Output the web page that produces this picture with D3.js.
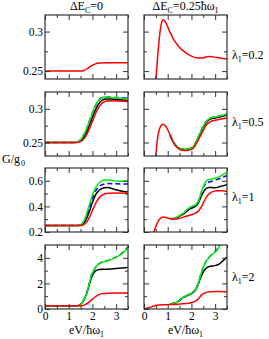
<!DOCTYPE html>
<html>
<head>
<meta charset="utf-8">
<script src="https://cdn.jsdelivr.net/npm/d3@7"></script>
<style>
  body { margin: 0; background: #fff; }
  svg text { font-family: "Liberation Serif", serif; fill: #000; }
</style>
</head>
<body>
<div id="chart"></div>
<script>
/* DATA */
const xTicks = [0, 1, 2, 3];
const lambdas = ["0.2", "0.5", "1", "2"];
const yDomains = [[0.24, 0.321], [0.23, 0.325], [0.2, 0.7], [0, 5]];
const yTickVals = [[0.25, 0.3], [0.25, 0.3], [0.2, 0.4, 0.6], [0, 2, 4]];
const yMinor = [[0.275], [0.275], [0.3, 0.5], [1, 3]];

// lambda = 0.2
const r1L_red = [[0,0.25],[1.5,0.25],[1.65,0.2508],[1.8,0.2535],[1.95,0.2565],[2.1,0.2588],[2.3,0.2602],[2.6,0.2605],[3.5,0.2605]];
const r1R_red = [[0.5,0.24],[0.55,0.258],[0.6,0.277],[0.67,0.298],[0.74,0.311],[0.81,0.315],[0.9,0.3125],[1.0,0.306],[1.1,0.299],[1.25,0.29],[1.5,0.28],[1.75,0.2735],[2.0,0.269],[2.25,0.2665],[2.45,0.2665],[2.7,0.2685],[2.9,0.268],[3.2,0.2665],[3.5,0.2652]];

// lambda = 0.5
const r2L_black = [[0,0.25],[1.3,0.25],[1.5,0.2525],[1.65,0.2585],[1.8,0.2695],[1.95,0.283],[2.1,0.2965],[2.25,0.3065],[2.4,0.3125],[2.6,0.3145],[2.8,0.3145],[3.1,0.3135],[3.5,0.3125]];
const r2L_blue = [[0,0.25],[1.25,0.25],[1.45,0.2525],[1.6,0.259],[1.75,0.27],[1.9,0.2845],[2.05,0.2985],[2.2,0.3095],[2.35,0.3155],[2.55,0.3175],[2.8,0.3172],[3.1,0.3165],[3.5,0.3162]];
const r2L_green = [[0,0.25],[1.25,0.25],[1.45,0.2525],[1.6,0.259],[1.75,0.27],[1.9,0.2845],[2.05,0.2985],[2.2,0.3095],[2.35,0.3155],[2.55,0.3175],[2.8,0.317],[3.1,0.316],[3.5,0.315]];
const r2L_red = [[0,0.25],[1.35,0.25],[1.55,0.2525],[1.7,0.2585],[1.85,0.2685],[2.0,0.2815],[2.15,0.2945],[2.3,0.304],[2.45,0.3095],[2.6,0.3115],[2.8,0.312],[3.1,0.3115],[3.5,0.311]];
const r2R_black = [[1.1,0.261],[1.2,0.253],[1.3,0.247],[1.45,0.242],[1.6,0.2398],[1.8,0.2395],[2.0,0.241],[2.1,0.244],[2.2,0.25],[2.35,0.2615],[2.5,0.273],[2.65,0.281],[2.8,0.2848],[3.0,0.2865],[3.2,0.288],[3.5,0.291]];
const r2R_blue = [[1.1,0.261],[1.2,0.253],[1.3,0.2475],[1.45,0.2425],[1.6,0.2405],[1.8,0.2402],[2.0,0.2418],[2.1,0.245],[2.2,0.2515],[2.35,0.263],[2.5,0.2745],[2.65,0.2825],[2.8,0.2862],[3.0,0.2878],[3.2,0.2895],[3.5,0.2925]];
const r2R_green = [[1.1,0.261],[1.2,0.253],[1.3,0.2475],[1.45,0.2425],[1.6,0.2405],[1.8,0.2402],[2.0,0.2418],[2.1,0.245],[2.2,0.2515],[2.35,0.263],[2.5,0.2745],[2.65,0.2825],[2.8,0.2862],[3.0,0.2878],[3.2,0.2895],[3.5,0.2925]];
const r2R_red = [[0.5,0.23],[0.55,0.25],[0.62,0.266],[0.7,0.274],[0.8,0.277],[0.9,0.275],[1.0,0.269],[1.1,0.261],[1.2,0.253],[1.3,0.2465],[1.45,0.241],[1.6,0.2385],[1.8,0.2382],[2.0,0.2398],[2.1,0.2425],[2.2,0.248],[2.35,0.258],[2.5,0.268],[2.65,0.277],[2.8,0.281],[3.0,0.283],[3.2,0.2845],[3.5,0.2865]];

// lambda = 1
const r3L_black = [[0,0.25],[1.4,0.25],[1.55,0.257],[1.7,0.285],[1.85,0.35],[2.0,0.43],[2.15,0.495],[2.3,0.528],[2.5,0.545],[2.65,0.548],[2.9,0.535],[3.2,0.52],[3.5,0.512]];
const r3L_blue = [[0,0.25],[1.38,0.25],[1.53,0.258],[1.68,0.29],[1.83,0.365],[1.98,0.45],[2.13,0.52],[2.28,0.556],[2.45,0.572],[2.65,0.578],[2.9,0.577],[3.2,0.575],[3.5,0.575]];
const r3L_green = [[0,0.25],[1.35,0.25],[1.5,0.258],[1.65,0.29],[1.8,0.37],[1.95,0.46],[2.1,0.535],[2.25,0.578],[2.4,0.6],[2.6,0.609],[2.8,0.605],[3.0,0.597],[3.2,0.596],[3.5,0.599]];
const r3L_red = [[0,0.25],[1.45,0.25],[1.6,0.255],[1.75,0.275],[1.9,0.325],[2.05,0.39],[2.2,0.445],[2.35,0.48],[2.5,0.497],[2.7,0.503],[3.0,0.504],[3.5,0.503]];
const r3R_black = [[1.1,0.304],[1.25,0.304],[1.45,0.318],[1.66,0.34],[1.94,0.38],[2.15,0.398],[2.29,0.425],[2.36,0.455],[2.43,0.485],[2.5,0.51],[2.57,0.53],[2.71,0.548],[2.85,0.547],[3.0,0.545],[3.2,0.555],[3.5,0.57]];
const r3R_blue = [[1.1,0.304],[1.25,0.305],[1.45,0.322],[1.66,0.348],[1.94,0.392],[2.15,0.41],[2.22,0.42],[2.29,0.439],[2.36,0.475],[2.43,0.517],[2.5,0.548],[2.57,0.57],[2.64,0.582],[2.71,0.588],[2.85,0.596],[3.06,0.609],[3.25,0.622],[3.5,0.642]];
const r3R_green = [[1.1,0.304],[1.25,0.305],[1.45,0.322],[1.66,0.348],[1.94,0.392],[2.15,0.41],[2.22,0.42],[2.29,0.439],[2.36,0.475],[2.43,0.517],[2.5,0.553],[2.57,0.583],[2.64,0.6],[2.71,0.609],[2.85,0.614],[3.0,0.62],[3.2,0.634],[3.35,0.65],[3.5,0.668]];
const r3R_red = [[0.42,0.2],[0.5,0.245],[0.6,0.285],[0.7,0.308],[0.81,0.317],[0.95,0.312],[1.1,0.304],[1.25,0.302],[1.45,0.306],[1.66,0.316],[1.9,0.33],[2.08,0.341],[2.2,0.352],[2.29,0.363],[2.36,0.38],[2.43,0.4],[2.5,0.425],[2.57,0.452],[2.64,0.474],[2.71,0.491],[2.85,0.512],[3.06,0.523],[3.3,0.522],[3.5,0.517]];

// lambda = 2
const r4L_black = [[0,0.25],[1.35,0.25],[1.45,0.3],[1.55,0.45],[1.65,0.75],[1.75,1.2],[1.85,1.8],[1.95,2.4],[2.05,2.8],[2.15,3.0],[2.3,3.08],[2.5,3.1],[2.8,3.12],[3.1,3.18],[3.5,3.25]];
const r4L_blue = [[0,0.25],[1.35,0.25],[1.45,0.3],[1.55,0.45],[1.65,0.75],[1.75,1.2],[1.85,1.85],[1.95,2.6],[2.05,3.0],[2.15,3.3],[2.3,3.57],[2.5,3.72],[2.7,3.82],[2.9,3.98],[3.1,4.18],[3.3,4.45],[3.5,4.85]];
const r4L_green = [[0,0.25],[1.35,0.25],[1.45,0.3],[1.55,0.45],[1.65,0.75],[1.75,1.2],[1.85,1.85],[1.95,2.6],[2.05,3.0],[2.15,3.3],[2.3,3.55],[2.5,3.7],[2.7,3.8],[2.9,3.95],[3.1,4.15],[3.3,4.4],[3.5,4.78]];
const r4L_red = [[0,0.25],[1.5,0.25],[1.65,0.3],[1.8,0.45],[1.95,0.68],[2.1,0.92],[2.25,1.1],[2.4,1.2],[2.6,1.24],[3.0,1.25],[3.5,1.25]];
const r4R_black = [[1.1,0.37],[1.25,0.45],[1.38,0.52],[1.52,0.7],[1.66,0.9],[1.8,1.02],[1.94,1.15],[2.08,1.3],[2.2,1.55],[2.29,1.95],[2.36,2.3],[2.43,2.63],[2.5,2.9],[2.57,3.08],[2.78,3.34],[2.99,3.39],[3.2,3.55],[3.35,3.8],[3.5,4.05]];
const r4R_blue = [[1.1,0.37],[1.25,0.45],[1.38,0.53],[1.52,0.72],[1.66,0.92],[1.8,1.05],[1.94,1.18],[2.08,1.35],[2.2,1.62],[2.29,2.02],[2.36,2.47],[2.43,2.9],[2.5,3.27],[2.57,3.57],[2.71,3.97],[2.85,4.24],[3.0,4.5],[3.1,4.7],[3.2,5.0],[3.3,5.3]];
const r4R_green = [[1.1,0.37],[1.25,0.45],[1.38,0.53],[1.52,0.72],[1.66,0.92],[1.8,1.05],[1.94,1.18],[2.08,1.35],[2.2,1.6],[2.29,2.0],[2.36,2.45],[2.43,2.89],[2.5,3.25],[2.57,3.55],[2.71,3.95],[2.85,4.21],[3.0,4.45],[3.1,4.65],[3.2,5.0],[3.3,5.3]];
const r4R_red = [[0,0],[0.25,0.13],[0.45,0.26],[0.6,0.32],[0.96,0.34],[1.52,0.39],[1.94,0.47],[2.15,0.6],[2.29,0.79],[2.43,1.1],[2.57,1.26],[2.78,1.34],[3.1,1.36],[3.5,1.34]];

const panels = [
  [{red: r1L_red}, {red: r1R_red}],
  [{black: r2L_black, blue: r2L_blue, green: r2L_green, red: r2L_red}, {black: r2R_black, blue: r2R_blue, green: r2R_green, red: r2R_red}],
  [{black: r3L_black, blue: r3L_blue, green: r3L_green, red: r3L_red}, {black: r3R_black, blue: r3R_blue, green: r3R_green, red: r3R_red}],
  [{black: r4L_black, blue: r4L_blue, green: r4L_green, red: r4L_red}, {black: r4R_black, blue: r4R_blue, green: r4R_green, red: r4R_red}]
];

/* LAYOUT */
const W = 269, H = 339;
const colX = [45, 144], rowY = [15, 92, 168, 245];
const pw = 83, ph = 64;
const lamY = [59, 126, 201, 281];
const colors = {black: "#000000", blue: "#0000ff", green: "#00ee00", red: "#ff0000"};
const FS = "12px", TS = "11.5px", SUB = "8px";

const svg = d3.select("#chart").append("svg")
  .attr("width", W).attr("height", H);

const x = d3.scaleLinear().domain([0, 3.5]).range([0, pw]);
const xMinor = [0.5, 1.5, 2.5, 3.5];

panels.forEach((row, ri) => {
  const y = d3.scaleLinear().domain(yDomains[ri]).range([ph, 0]);
  const fmt = d => String(+d.toFixed(2));
  row.forEach((series, ci) => {
    const g = svg.append("g").attr("transform", `translate(${colX[ci]},${rowY[ri]})`);
    const cid = `clip${ri}${ci}`;
    g.append("clipPath").attr("id", cid).append("rect").attr("width", pw).attr("height", ph);

    const line = d3.line().x(d => x(d[0])).y(d => y(d[1])).curve(d3.curveMonotoneX);
    const lines = g.append("g").attr("clip-path", `url(#${cid})`);
    ["black", "blue", "green", "red"].forEach(k => {
      if (!series[k]) return;
      lines.append("path")
        .attr("d", line(series[k]))
        .attr("fill", "none")
        .attr("stroke", colors[k])
        .attr("stroke-width", 1.5)
        .attr("stroke-dasharray", k === "blue" ? "5,3" : null);
    });

    // axes, ticks inward on all four sides
    const addAxis = (axis, tx, ty) => {
      const a = g.append("g").attr("transform", `translate(${tx},${ty})`).call(axis);
      a.attr("font-family", null).attr("font-size", null);
      a.select(".domain").remove();
      a.selectAll(".tick line").attr("stroke", "#333");
      a.selectAll(".tick text").style("font-size", TS).attr("fill", "#000");
      return a;
    };
    const showX = ri === 3, showY = ci === 0;
    addAxis(d3.axisBottom(x).tickValues(xTicks).tickSize(-5).tickPadding(3)
      .tickFormat(showX ? d3.format("d") : ""), 0, ph);
    addAxis(d3.axisBottom(x).tickValues(xMinor).tickSize(-3).tickFormat(""), 0, ph);
    addAxis(d3.axisTop(x).tickValues(xTicks).tickSize(-5).tickFormat(""), 0, 0);
    addAxis(d3.axisTop(x).tickValues(xMinor).tickSize(-3).tickFormat(""), 0, 0);
    addAxis(d3.axisLeft(y).tickValues(yTickVals[ri]).tickSize(-5).tickPadding(2)
      .tickFormat(showY ? fmt : ""), 0, 0);
    addAxis(d3.axisLeft(y).tickValues(yMinor[ri]).tickSize(-3).tickFormat(""), 0, 0);
    addAxis(d3.axisRight(y).tickValues(yTickVals[ri]).tickSize(-5).tickFormat(""), pw, 0);
    addAxis(d3.axisRight(y).tickValues(yMinor[ri]).tickSize(-3).tickFormat(""), pw, 0);

    g.append("rect").attr("width", pw).attr("height", ph)
      .attr("fill", "none").attr("stroke", "#333").attr("stroke-width", 1.2);

    if (showX) {
      const t = g.append("text").attr("x", pw / 2).attr("y", ph + 25)
        .attr("text-anchor", "middle").style("font-size", FS);
      t.append("tspan").text("eV/ħω");
      t.append("tspan").attr("dy", 3).style("font-size", SUB).text("1");
    }
  });

  const lt = svg.append("text").attr("x", 232).attr("y", lamY[ri]).style("font-size", FS);
  lt.append("tspan").text("λ");
  lt.append("tspan").attr("dy", 3).style("font-size", SUB).text("1");
  lt.append("tspan").attr("dy", -3).text("=" + lambdas[ri]);
});

// column titles
const t1 = svg.append("text").attr("x", colX[0] + pw / 2).attr("y", 10)
  .attr("text-anchor", "middle").style("font-size", FS);
t1.append("tspan").text("ΔE");
t1.append("tspan").attr("dy", 3).style("font-size", SUB).text("C");
t1.append("tspan").attr("dy", -3).text("=0");

const t2 = svg.append("text").attr("x", colX[1] + pw / 2).attr("y", 10)
  .attr("text-anchor", "middle").style("font-size", FS);
t2.append("tspan").text("ΔE");
t2.append("tspan").attr("dy", 3).style("font-size", SUB).text("C");
t2.append("tspan").attr("dy", -3).text("=0.25ħω");
t2.append("tspan").attr("dy", 3).style("font-size", SUB).text("1");

// y label
const yl = svg.append("text").attr("x", 2).attr("y", 163).style("font-size", FS);
yl.append("tspan").text("G/g");
yl.append("tspan").attr("dy", 3).attr("dx", 1).style("font-size", SUB).text("0");
</script>
</body>
</html>
